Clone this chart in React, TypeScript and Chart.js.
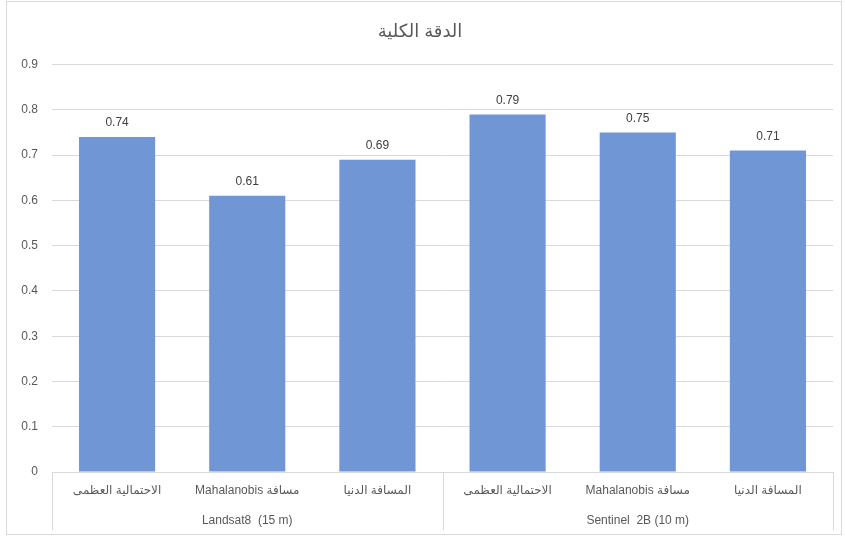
import { useEffect, useRef } from "react";
import { Chart, registerables, Plugin } from "chart.js";

Chart.register(...registerables);

const title = "الدقة الكلية";
const methods = ["الاحتمالية العظمى", "مسافة Mahalanobis", "المسافة الدنيا"];
const sensors = ["Landsat8  (15 m)", "Sentinel  2B (10 m)"];
const accuracy = [0.74, 0.61, 0.69, 0.79, 0.75, 0.71];
const yTicks = [0, 0.1, 0.2, 0.3, 0.4, 0.5, 0.6, 0.7, 0.8, 0.9];

const FONT = "'Liberation Sans', 'DejaVu Sans', sans-serif";
const TEXT = "#595959";
const LINE = "#d9d9d9";

// one label per bar, sensor name centred on the middle bar of each group
const categories = sensors.flatMap(() => methods);
const sensorRow = sensors.flatMap(s => methods.map((_, i) => (i === 1 ? s : "")));

const valueLabels: Plugin = {
  id: "valueLabels",
  afterDatasetsDraw(chart) {
    const { ctx } = chart;
    const meta = chart.getDatasetMeta(0);
    ctx.save();
    ctx.font = `12px ${FONT}`;
    ctx.fillStyle = "#404040";
    ctx.textAlign = "center";
    ctx.textBaseline = "bottom";
    meta.data.forEach((bar, i) => {
      ctx.fillText(String(accuracy[i]), bar.x, bar.y - 8);
    });
    ctx.restore();
  },
};

const groupLines: Plugin = {
  id: "groupLines",
  afterDraw(chart) {
    const { ctx, chartArea } = chart;
    const x = chart.scales.x;
    const x2 = chart.scales.x2;
    const half = (x.getPixelForValue(1) - x.getPixelForValue(0)) / 2;
    ctx.save();
    ctx.strokeStyle = LINE;
    ctx.lineWidth = 1;
    for (let g = 0; g <= sensors.length; g++) {
      const idx = g * methods.length;
      const px =
        idx < categories.length
          ? x.getPixelForValue(idx) - half
          : x.getPixelForValue(categories.length - 1) + half;
      const xx = Math.round(px) + 0.5;
      ctx.beginPath();
      ctx.moveTo(xx, chartArea.bottom);
      ctx.lineTo(xx, x2.bottom - 4);
      ctx.stroke();
    }
    ctx.restore();
  },
};

export default function App() {
  const canvasRef = useRef<HTMLCanvasElement>(null);

  useEffect(() => {
    if (!canvasRef.current) return;
    const chart = new Chart(canvasRef.current, {
      type: "bar",
      data: {
        labels: categories,
        datasets: [
          {
            data: accuracy,
            backgroundColor: "#7196d6",
            categoryPercentage: 1,
            barPercentage: 0.585,
          },
        ],
      },
      options: {
        animation: false,
        responsive: true,
        maintainAspectRatio: false,
        layout: { padding: { left: 0, right: 8, top: 0, bottom: 0 } },
        plugins: {
          legend: { display: false },
          tooltip: { enabled: false },
          title: {
            display: true,
            text: title,
            color: TEXT,
            font: { family: FONT, size: 18, weight: "normal" },
            padding: { top: 19, bottom: 22 },
          },
        },
        scales: {
          y: {
            min: 0,
            max: 0.9,
            afterBuildTicks: scale => {
              scale.ticks = yTicks.map(v => ({ value: v }));
            },
            afterFit: scale => {
              scale.width = 45;
            },
            ticks: {
              color: TEXT,
              font: { family: FONT, size: 12 },
              padding: 14,
              callback: v => String(Number(v)),
            },
            grid: { color: LINE, drawTicks: false },
            border: { display: false },
          },
          x: {
            weight: 0,
            afterFit: scale => {
              scale.height = 32;
            },
            ticks: {
              color: TEXT,
              font: { family: FONT, size: 12 },
              padding: 11,
              maxRotation: 0,
              autoSkip: false,
              callback: (_v, i) => "\u2067" + categories[i] + "\u2069",
            },
            grid: { display: false, drawTicks: false },
            border: { display: true, color: LINE },
          },
          x2: {
            type: "category",
            position: "bottom",
            weight: 1,
            labels: sensorRow,
            afterFit: scale => {
              scale.height = 30;
            },
            ticks: {
              color: TEXT,
              font: { family: FONT, size: 12 },
              padding: 9,
              maxRotation: 0,
              autoSkip: false,
            },
            grid: { display: false, drawTicks: false },
            border: { display: false },
          },
        },
      },
      plugins: [valueLabels, groupLines],
    });
    return () => chart.destroy();
  }, []);

  return (
    <div
      style={{
        position: "absolute",
        left: 6,
        top: 1,
        width: 834,
        height: 532,
        border: "1px solid #d9d9d9",
        background: "#fff",
      }}
    >
      <canvas ref={canvasRef} />
    </div>
  );
}
